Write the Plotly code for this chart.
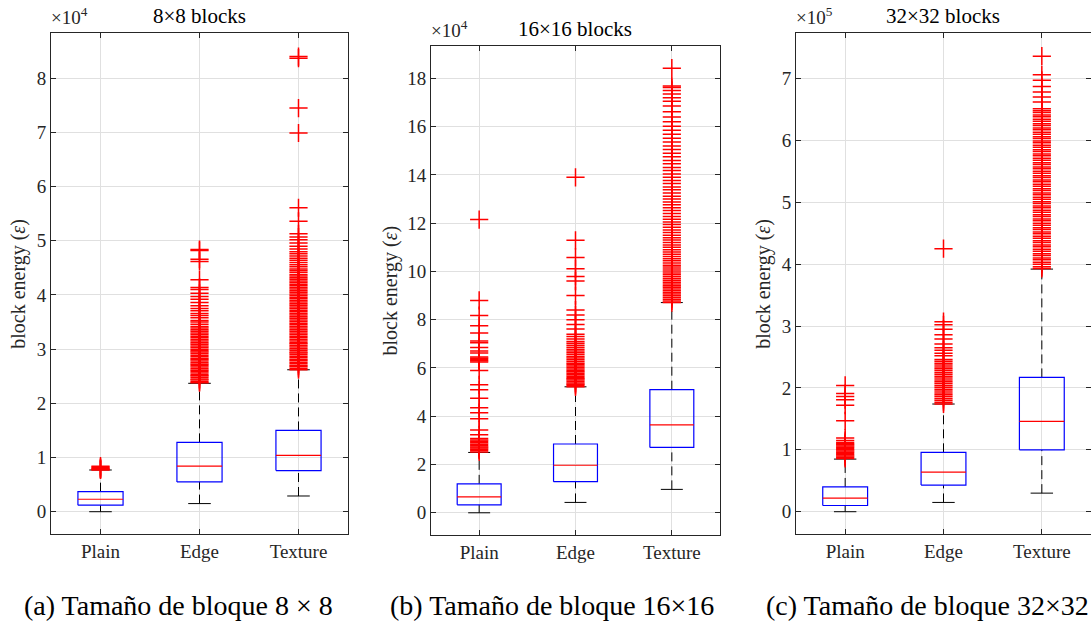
import plotly.graph_objects as go

# ---------------------------------------------------------------------------
# Block-energy statistics per block class, for three block sizes.
# Values are in the units printed on each y axis (x1e4, x1e4, x1e5).
# ---------------------------------------------------------------------------
CATEGORIES = ["Plain", "Edge", "Texture"]

# 8x8 blocks (x1e4)
LOW_8 = [0.0, 0.15, 0.29]
Q1_8 = [0.12, 0.55, 0.76]
MED_8 = [0.23, 0.84, 1.04]
Q3_8 = [0.37, 1.28, 1.50]
HIGH_8 = [0.77, 2.37, 2.62]
OUT_8_PLAIN = [0.77, 0.78, 0.79, 0.80, 0.82, 0.84]
OUT_8_EDGE = [2.38, 2.40, 2.43, 2.45, 2.48, 2.51, 2.53, 2.56, 2.59, 2.61, 2.64,
              2.67, 2.70, 2.72, 2.75, 2.78, 2.81, 2.83, 2.86, 2.89, 2.92, 2.95,
              2.97, 3.00, 3.03, 3.06, 3.09, 3.12, 3.15, 3.18, 3.21, 3.24, 3.27,
              3.30, 3.33, 3.36, 3.39, 3.42, 3.46, 3.50, 3.53, 3.58, 3.62, 3.66,
              3.71, 3.75, 3.80, 3.86, 3.92, 3.97, 4.03, 4.10, 4.14, 4.28, 4.62,
              4.66, 4.82, 4.84]
OUT_8_TEXTURE = [2.62, 2.65, 2.68, 2.70, 2.73, 2.76, 2.79, 2.81, 2.84, 2.87,
                 2.90, 2.93, 2.95, 2.98, 3.01, 3.04, 3.07, 3.10, 3.12, 3.15,
                 3.18, 3.21, 3.24, 3.27, 3.30, 3.33, 3.36, 3.39, 3.42, 3.45,
                 3.48, 3.51, 3.54, 3.57, 3.60, 3.63, 3.66, 3.69, 3.72, 3.75,
                 3.78, 3.81, 3.84, 3.87, 3.90, 3.93, 3.96, 3.99, 4.02, 4.05,
                 4.08, 4.11, 4.14, 4.17, 4.20, 4.23, 4.26, 4.29, 4.32, 4.35,
                 4.38, 4.42, 4.45, 4.48, 4.52, 4.56, 4.60, 4.64, 4.68, 4.72,
                 4.76, 4.80, 4.85, 4.90, 4.96, 5.02, 5.07, 5.13, 5.36, 5.61,
                 6.99, 7.45, 8.37, 8.40]

# 16x16 blocks (x1e4)
LOW_16 = [0.0, 0.43, 0.97]
Q1_16 = [0.33, 1.29, 2.71]
MED_16 = [0.66, 1.97, 3.64]
Q3_16 = [1.20, 2.85, 5.10]
HIGH_16 = [2.50, 5.22, 8.71]
OUT_16_PLAIN = [2.52, 2.58, 2.63, 2.68, 2.73, 2.78, 2.84, 2.90, 2.96, 3.02,
                3.08, 3.23, 3.43, 3.90, 4.15, 4.35, 4.75, 5.10, 5.30, 5.90,
                6.25, 6.30, 6.35, 6.40, 6.45, 6.62, 6.70, 6.85, 7.05, 7.12,
                7.45, 7.75, 8.17, 8.80, 12.15]
OUT_16_EDGE = [5.22, 5.28, 5.33, 5.38, 5.44, 5.50, 5.55, 5.60, 5.66, 5.72,
               5.78, 5.84, 5.90, 5.96, 6.02, 6.08, 6.14, 6.20, 6.27, 6.34,
               6.41, 6.48, 6.56, 6.63, 6.70, 6.78, 6.86, 6.94, 7.02, 7.10,
               7.20, 7.30, 7.40, 7.62, 7.80, 8.00, 8.20, 8.40, 9.00, 9.60,
               9.79, 10.11, 10.58, 11.29, 13.90]
OUT_16_TEXTURE = [8.71, 8.78, 8.85, 8.92, 8.99, 9.06, 9.13, 9.20, 9.27, 9.34,
                  9.41, 9.48, 9.55, 9.62, 9.70, 9.78, 9.86, 9.94, 10.02, 10.10,
                  10.18, 10.26, 10.35, 10.44, 10.53, 10.62, 10.71, 10.80,
                  10.90, 11.00, 11.10, 11.20, 11.30, 11.40, 11.50, 11.61,
                  11.72, 11.83, 11.94, 12.05, 12.16, 12.28, 12.40, 12.52,
                  12.64, 12.76, 12.88, 13.00, 13.12, 13.25, 13.38, 13.50,
                  13.64, 13.77, 13.90, 14.04, 14.18, 14.31, 14.46, 14.60,
                  14.75, 14.90, 15.05, 15.20, 15.36, 15.52, 15.68, 15.85,
                  16.02, 16.20, 16.40, 16.62, 16.85, 17.05, 17.20, 17.35,
                  17.50, 17.62, 17.68, 18.42]

# 32x32 blocks (x1e5)
LOW_32 = [0.0, 0.15, 0.30]
Q1_32 = [0.10, 0.43, 1.00]
MED_32 = [0.22, 0.64, 1.46]
Q3_32 = [0.40, 0.96, 2.17]
HIGH_32 = [0.85, 1.74, 3.92]
OUT_32_PLAIN = [0.86, 0.88, 0.90, 0.92, 0.94, 0.96, 0.98, 1.00, 1.02, 1.04,
                1.06, 1.08, 1.10, 1.12, 1.15, 1.19, 1.47, 1.72, 1.81, 1.86,
                1.91, 2.04]
OUT_32_EDGE = [1.74, 1.77, 1.80, 1.83, 1.86, 1.89, 1.92, 1.95, 1.98, 2.01,
               2.04, 2.07, 2.10, 2.13, 2.16, 2.19, 2.22, 2.25, 2.28, 2.31,
               2.34, 2.37, 2.40, 2.43, 2.46, 2.52, 2.56, 2.61, 2.65, 2.71,
               2.79, 2.86, 2.95, 3.02, 3.07, 4.25]
OUT_32_TEXTURE = [3.93, 3.96, 4.00, 4.03, 4.07, 4.10, 4.14, 4.17, 4.21, 4.24,
                  4.28, 4.31, 4.35, 4.38, 4.42, 4.45, 4.49, 4.52, 4.56, 4.59,
                  4.63, 4.66, 4.70, 4.73, 4.77, 4.80, 4.84, 4.87, 4.91, 4.94,
                  4.98, 5.01, 5.05, 5.08, 5.12, 5.15, 5.19, 5.22, 5.26, 5.29,
                  5.33, 5.36, 5.40, 5.43, 5.47, 5.50, 5.54, 5.57, 5.61, 5.64,
                  5.68, 5.71, 5.75, 5.78, 5.82, 5.85, 5.89, 5.92, 5.96, 5.99,
                  6.03, 6.06, 6.10, 6.13, 6.17, 6.20, 6.24, 6.27, 6.31, 6.34,
                  6.38, 6.41, 6.45, 6.48, 6.51, 6.62, 6.70, 6.78, 6.87, 6.97,
                  7.06, 7.36]

TITLES = ["8\u00d78 blocks", "16\u00d716 blocks", "32\u00d732 blocks"]
EXPONENTS = ["4", "4", "5"]
CAPTIONS = ["(a) Tama\u00f1o de bloque 8 \u00d7 8",
            "(b) Tama\u00f1o de bloque 16\u00d716",
            "(c) Tama\u00f1o de bloque 32\u00d732"]
Y_TICKS = [list(range(0, 9)), list(range(0, 19, 2)), list(range(0, 8))]

# ---------------------------------------------------------------------------
# Layout geometry (pixels in a 1091x626 page)
# ---------------------------------------------------------------------------
W, H = 1091, 626
BOX_HALF = 0.228
CAP_HALF = 0.114
AX_COLOR = "#262626"
GRID_COLOR = "#e0e0e0"
FONT = "Liberation Serif, Times New Roman, serif"

PANELS = [
    dict(stats=(LOW_8, Q1_8, MED_8, Q3_8, HIGH_8),
         outliers=(OUT_8_PLAIN, OUT_8_EDGE, OUT_8_TEXTURE),
         x_px=(51, 348), y_px=(33.3, 534.3), yrange=[-0.417, 8.83],
         title_x=199, title_y=16, exp_y=30, label_x=19,
         caption_x=178, caption_anchor="center"),
    dict(stats=(LOW_16, Q1_16, MED_16, Q3_16, HIGH_16),
         outliers=(OUT_16_PLAIN, OUT_16_EDGE, OUT_16_TEXTURE),
         x_px=(431, 720), y_px=(46, 535), yrange=[-0.92, 19.34],
         title_x=575, title_y=29, exp_y=43, label_x=390,
         caption_x=552, caption_anchor="center"),
    dict(stats=(LOW_32, Q1_32, MED_32, Q3_32, HIGH_32),
         outliers=(OUT_32_PLAIN, OUT_32_EDGE, OUT_32_TEXTURE),
         x_px=(796, 1091), y_px=(33.3, 534.3), yrange=[-0.365, 7.73],
         title_x=943, title_y=16, exp_y=30, label_x=764,
         caption_x=764, caption_anchor="left"),
]


def fx(x):
    return x / W


def fy(y):
    return 1 - y / H


fig = go.Figure()
annotations = []

for i, panel in enumerate(PANELS):
    sfx = "" if i == 0 else str(i + 1)
    xa, ya = "x" + sfx, "y" + sfx
    low, q1, med, q3, high = panel["stats"]

    box_x, box_y, med_x, med_y = [], [], [], []
    wh_x, wh_y, cap_x, cap_y = [], [], [], []
    out_x, out_y = [], []
    for c in range(len(CATEGORIES)):
        box_x += [c - BOX_HALF, c + BOX_HALF, c + BOX_HALF, c - BOX_HALF, c - BOX_HALF, None]
        box_y += [q1[c], q1[c], q3[c], q3[c], q1[c], None]
        med_x += [c - BOX_HALF, c + BOX_HALF, None]
        med_y += [med[c], med[c], None]
        wh_x += [c, c, None, c, c, None]
        wh_y += [q3[c], high[c], None, low[c], q1[c], None]
        cap_x += [c - CAP_HALF, c + CAP_HALF, None, c - CAP_HALF, c + CAP_HALF, None]
        cap_y += [high[c], high[c], None, low[c], low[c], None]
        out_x += [c] * len(panel["outliers"][c])
        out_y += list(panel["outliers"][c])

    common = dict(xaxis=xa, yaxis=ya, showlegend=False, hoverinfo="skip")
    fig.add_trace(go.Scatter(x=wh_x, y=wh_y, mode="lines",
                             line=dict(color="black", width=1, dash="9px,5px"), **common))
    fig.add_trace(go.Scatter(x=cap_x, y=cap_y, mode="lines",
                             line=dict(color="black", width=1), **common))
    fig.add_trace(go.Scatter(x=box_x, y=box_y, mode="lines",
                             line=dict(color="#0000ff", width=1.2), **common))
    fig.add_trace(go.Scatter(x=med_x, y=med_y, mode="lines",
                             line=dict(color="#ff0000", width=1.2), **common))
    fig.add_trace(go.Scatter(x=out_x, y=out_y, mode="markers",
                             marker=dict(symbol="cross-thin", size=13,
                                         line=dict(color="#ff0000", width=1.5)),
                             **common))

    x0, x1 = panel["x_px"]
    ytop, ybot = panel["y_px"]
    axis_common = dict(showline=True, linecolor=AX_COLOR, linewidth=1, mirror="ticks",
                       ticks="inside", ticklen=5, tickcolor=AX_COLOR,
                       showgrid=True, gridcolor=GRID_COLOR, gridwidth=1,
                       zeroline=False,
                       tickfont=dict(family=FONT, size=19, color=AX_COLOR))
    fig.update_layout(**{
        "xaxis" + sfx: dict(domain=[fx(x0), min(1.0, fx(x1))], range=[-0.5, 2.5],
                            tickvals=[0, 1, 2], ticktext=CATEGORIES,
                            anchor=ya, **axis_common),
        "yaxis" + sfx: dict(domain=[fy(ybot), fy(ytop)], range=panel["yrange"],
                            tickvals=Y_TICKS[i], anchor=xa, **axis_common),
    })

    annotations.append(dict(text=TITLES[i], x=fx(panel["title_x"]), y=fy(panel["title_y"]),
                            xref="paper", yref="paper", showarrow=False,
                            xanchor="center", yanchor="middle",
                            font=dict(family=FONT, size=21, color="black")))
    annotations.append(dict(text="\u00d710<sup>" + EXPONENTS[i] + "</sup>",
                            x=fx(x0 - 2), y=fy(panel["exp_y"]),
                            xref="paper", yref="paper", showarrow=False,
                            xanchor="left", yanchor="bottom",
                            font=dict(family=FONT, size=19, color=AX_COLOR)))
    annotations.append(dict(text="block energy (<i>\u03b5</i>)",
                            x=fx(panel["label_x"]), y=fy((ytop + ybot) / 2),
                            xref="paper", yref="paper", showarrow=False,
                            textangle=-90, xanchor="center", yanchor="middle",
                            font=dict(family=FONT, size=20, color=AX_COLOR)))
    annotations.append(dict(text=CAPTIONS[i], x=fx(panel["caption_x"]), y=fy(605),
                            xref="paper", yref="paper", showarrow=False,
                            xanchor=panel["caption_anchor"], yanchor="middle",
                            font=dict(family=FONT, size=28, color="black")))

fig.update_layout(width=W, height=H, margin=dict(l=0, r=0, t=0, b=0),
                  paper_bgcolor="white", plot_bgcolor="white",
                  annotations=annotations)

fig.write_html("out.html")
